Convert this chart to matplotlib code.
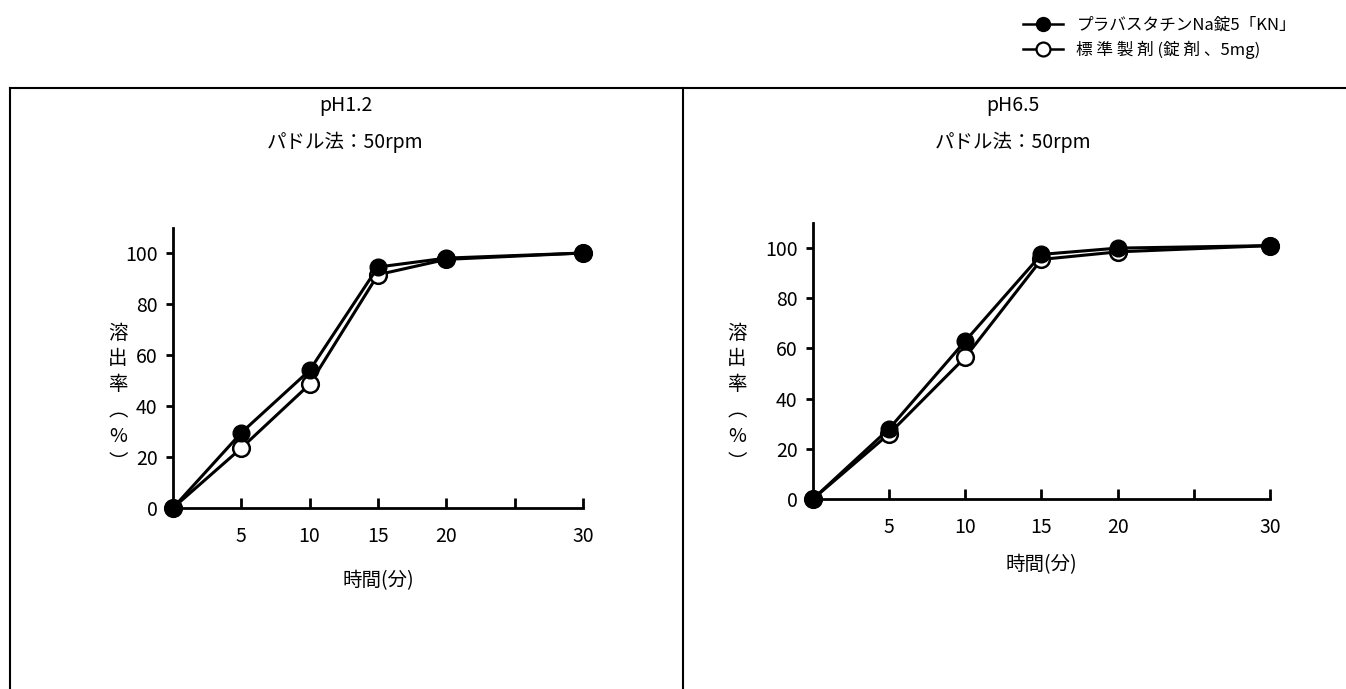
import matplotlib
matplotlib.use('Agg')
from matplotlib import pyplot as plt
from matplotlib.lines import Line2D

plt.rcParams['font.family'] = ['Noto Sans CJK JP', 'DejaVu Sans']

minutes = [0, 5, 10, 15, 20, 30]
xticks = [5, 10, 15, 20, 25, 30]
xticklabels = ['5', '10', '15', '20', '', '30']
yticks = [0, 20, 40, 60, 80, 100]

# pH1.2
ph12_test = [0, 29.5, 54, 94.5, 98, 100]
ph12_ref = [0, 23.5, 48.5, 91.5, 97.5, 100]
# pH6.5
ph65_test = [0, 28, 63, 97.5, 100, 101]
ph65_ref = [0, 26, 56.5, 95.5, 98.5, 101]

names = ['プラバスタチンNa錠5「KN」', '標 準 製 剤 (錠 剤 、5mg)']
titles = ['pH1.2', 'pH6.5']
method = 'パドル法：50rpm'

fig = plt.figure(figsize=(13.46, 6.89), dpi=100)

# frame lines
fig.add_artist(Line2D([0.0074, 1.0], [0.8723, 0.8723], color='black', lw=1.5))
fig.add_artist(Line2D([0.0074, 0.0074], [0.0, 0.8723], color='black', lw=1.5))
fig.add_artist(Line2D([0.5074, 0.5074], [0.0, 0.8723], color='black', lw=1.5))

panels = [
    ([0.1285, 0.2627, 0.3046, 0.4071], ph12_test, ph12_ref, 0.2567, 0.1580),
    ([0.6040, 0.2758, 0.3395, 0.4005], ph65_test, ph65_ref, 0.7525, 0.1800),
]

for i, (pos, test, ref, cx, xl_y) in enumerate(panels):
    ax = fig.add_axes(pos)
    ax.plot(minutes, ref, color='black', lw=2.2, marker='o', ms=12,
            mfc='white', mec='black', mew=1.8, clip_on=False, zorder=3)
    ax.plot(minutes, test, color='black', lw=2.2, marker='o', ms=12,
            mfc='black', mec='black', clip_on=False, zorder=4)
    ax.set_xlim(0, 30)
    ax.set_ylim(0, 110)
    ax.spines['top'].set_visible(False)
    ax.spines['right'].set_visible(False)
    ax.spines['left'].set_linewidth(2)
    ax.spines['bottom'].set_linewidth(2)
    ax.set_xticks(xticks)
    ax.set_xticklabels(xticklabels)
    ax.set_yticks(yticks)
    ax.tick_params(axis='x', direction='in', length=7, width=2, pad=13, labelsize=14)
    ax.tick_params(axis='y', direction='out', length=5, width=2, pad=6, labelsize=14)
    fig.text(cx, 0.8476, titles[i], ha='center', va='center', fontsize=14)
    fig.text(cx, 0.7939, method, ha='center', va='center', fontsize=14)
    fig.text(pos[0] + pos[2] / 2, xl_y, '時間(分)', ha='center', va='center', fontsize=14)
    ylx = 0.0877 if i == 0 else 0.5475
    fig.text(ylx, 0.423, '溶\n出\n率\n︵\n%\n︶', ha='center', va='center',
             fontsize=14, linespacing=1.3)

handles = [
    Line2D([], [], color='black', lw=1.8, marker='o', ms=10, mfc='black', mec='black'),
    Line2D([], [], color='black', lw=1.8, marker='o', ms=10, mfc='white', mec='black', mew=1.6),
]
fig.legend(handles, names, loc='upper left', bbox_to_anchor=(0.749, 0.998),
           frameon=False, fontsize=12, handlelength=2.4, handletextpad=0.8,
           labelspacing=0.45)

fig.savefig('out.png', dpi=100)
